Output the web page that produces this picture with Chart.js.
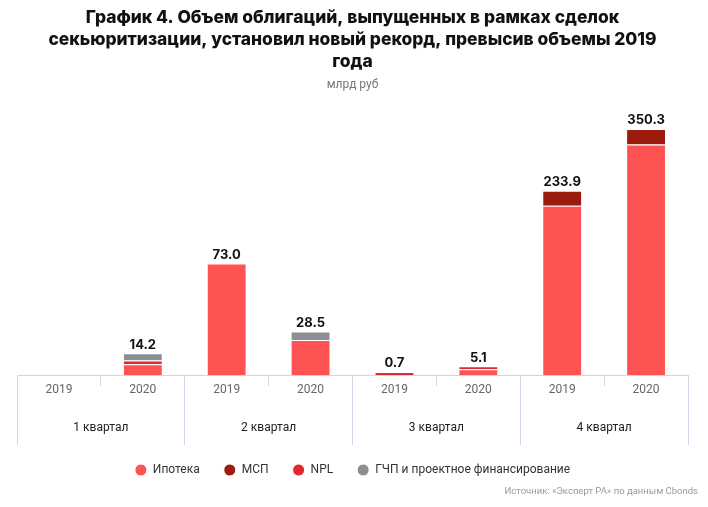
<!DOCTYPE html>
<html lang="ru">
<head>
<meta charset="utf-8">
<script src="https://cdn.jsdelivr.net/npm/chart.js@4"></script>
<style>
  html, body { margin: 0; padding: 0; background: #fff; }
  #wrap { position: relative; width: 708px; height: 507px; }
  #source { position: absolute; right: 10px; top: 485px; font: 9.5px Roboto, sans-serif; color: #9a9a9a; }
</style>
</head>
<body>
<div id="wrap">
  <canvas id="secChart" width="708" height="507"></canvas>
  <div id="source">Источник: «Эксперт РА» по данным Cbonds</div>
</div>
<script>
const years = ['2019', '2020', '2019', '2020', '2019', '2020', '2019', '2020'];
const quarters = ['1 квартал', '2 квартал', '3 квартал', '4 квартал'];
// segment heights as drawn in the picture (the 4th quarter is drawn compressed in the original)
const mortgage = [null, 7.0, 73.0, 23.0, null, 3.8, 110.9, 151.0];
const sme = [null, null, null, null, null, null, 9.8, 10.2];
const npl = [null, 2.5, null, null, 0.7, 1.3, null, null];
const ppp = [null, 4.7, null, 5.5, null, null, null, null];
// totals printed above the bars
const totals = ['', '14.2', '73.0', '28.5', '0.7', '5.1', '233.9', '350.3'];

Chart.defaults.font.family = 'Roboto';

// writes the total above each stacked column
const totalLabels = {
    id: 'totalLabels',
    afterDatasetsDraw(chart) {
        const ctx = chart.ctx;
        ctx.save();
        ctx.font = 'bold 13px Inter';
        ctx.fillStyle = '#111';
        ctx.textAlign = 'center';
        ctx.textBaseline = 'bottom';
        totals.forEach((t, i) => {
            if (!t) return;
            let top = null, x = null;
            chart.data.datasets.forEach((ds, d) => {
                if (ds.data[i] == null) return;
                const bar = chart.getDatasetMeta(d).data[i];
                if (top === null || bar.y < top) { top = bar.y; x = bar.x; }
            });
            if (top !== null) ctx.fillText(t, x, top - 2);
        });
        ctx.restore();
    }
};

const bar = (label, data, color) => ({
    label, data,
    backgroundColor: color,
    borderColor: '#fff',
    borderWidth: 1,
    minBarLength: 3,
    barPercentage: 0.95,
    categoryPercentage: 0.5
});

const ctx = document.getElementById('secChart').getContext('2d');
const secChart = new Chart(ctx, {
    type: 'bar',
    data: {
        labels: years,
        datasets: [
            bar('Ипотека', mortgage, '#ff5353'),
            bar('МСП', sme, '#9d1a0e'),
            bar('NPL', npl, '#e0292f'),
            bar('ГЧП и проектное финансирование', ppp, '#8b8e92')
        ]
    },
    options: {
        responsive: false,
        animation: false,
        devicePixelRatio: 1,
        layout: { padding: { left: 17, right: 20, bottom: 21 } },
        scales: {
            x: {
                stacked: true,
                border: { color: '#cdd6e6' },
                grid: {
                    offset: true,
                    drawOnChartArea: false,
                    tickLength: 22,
                    tickColor: '#cdd6e6',
                    // short dividers between years, full ones between quarters
                    tickBorderDash: c => (c.index % 2 === 1 ? [10, 200] : [])
                },
                ticks: {
                    color: '#666', font: { size: 12, lineHeight: 1 },
                    crossAlign: 'center', padding: -7, maxRotation: 0, autoSkip: false
                }
            },
            x2: {
                type: 'category',
                labels: quarters,
                position: 'bottom',
                offset: true,
                grid: { offset: true, drawOnChartArea: false, tickLength: 50, tickColor: '#cdd6e6' },
                border: { display: false },
                ticks: {
                    color: '#222', font: { size: 12, lineHeight: '29px' },
                    crossAlign: 'center', padding: -17, maxRotation: 0
                }
            },
            y: {
                stacked: true,
                display: false,
                min: 0,
                max: 180
            }
        },
        plugins: {
            title: {
                display: true,
                text: [
                    'График 4. Объем облигаций, выпущенных в рамках сделок',
                    'секьюритизации, установил новый рекорд, превысив объемы 2019',
                    'года'
                ],
                color: '#111',
                font: { family: 'Inter', size: 17.4, weight: 800, lineHeight: 1.26 },
                padding: { top: 7, bottom: 4 }
            },
            subtitle: {
                display: true,
                text: 'млрд руб',
                color: '#777',
                font: { size: 12 },
                padding: { top: 1, bottom: 8 }
            },
            legend: {
                position: 'bottom',
                labels: {
                    usePointStyle: true,
                    pointStyle: 'circle',
                    boxWidth: 12,
                    boxHeight: 8.5,
                    padding: 24,
                    color: '#333',
                    font: { size: 12 }
                }
            },
            tooltip: { enabled: false }
        }
    },
    plugins: [totalLabels]
});
</script>
</body>
</html>
